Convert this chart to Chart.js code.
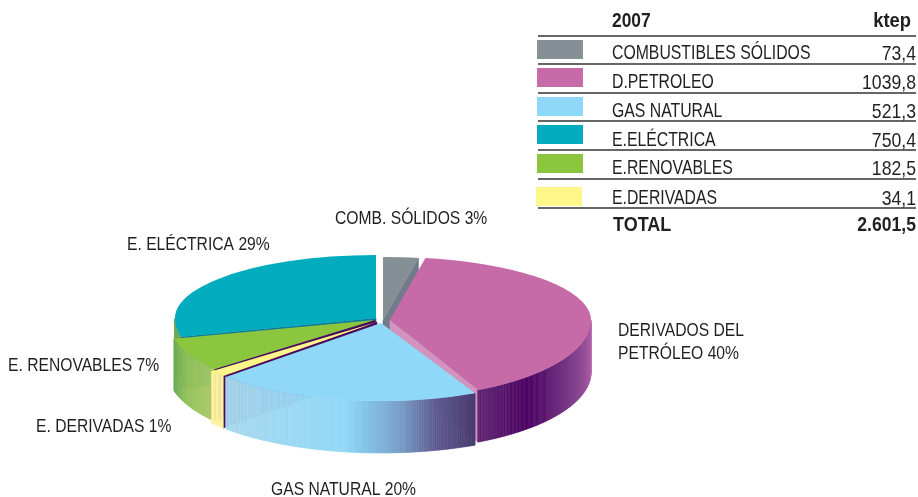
<!DOCTYPE html>
<html><head><meta charset="utf-8">
<style>html,body{margin:0;padding:0;background:#fff}canvas{display:block}</style>
<script src="https://cdn.jsdelivr.net/npm/chart.js@4"></script>
</head><body><canvas id="c" width="918" height="497"></canvas>
<script>
const categories = ['COMBUSTIBLES SÓLIDOS','D.PETROLEO','GAS NATURAL','E.ELÉCTRICA','E.RENOVABLES','E.DERIVADAS'];
const values = [73.4,1039.8,521.3,750.4,182.5,34.1];
const colors = ['#848f96','#c66ba8','#8fd8f8','#00acbe','#8cc63f','#fff689'];
const pieOrder = [0,1,2,5,4,3];
const yearLabel = '2007';
const unitLabel = 'ktep';
const totalLabel = 'TOTAL';
const totalValue = '2.601,5';
const sliceLabels = [
  [['COMB. SÓLIDOS 3%'],335,224],
  [['E. ELÉCTRICA 29%'],127,250],
  [['DERIVADOS DEL','PETRÓLEO 40%'],618,336],
  [['E. RENOVABLES 7%'],8,371],
  [['E. DERIVADAS 1%'],36,432],
  [['GAS NATURAL 20%'],271,495]
];
const rowLines = [36,64,93,121,150,179,208];
const rowBase = [59,88,117,146,174,204];

const cx=380, cy=322, W=918, H=497, RAD=201, DEPTH=52, K1=63/201, K2=78/201;
// the following are in pie order: comb, petro, gas, deriv, renov, elec
const shift=[[3,-2],[10,-2],[1,1],[-3,0],[-5,-2],[-4,-4]];
const widen=[1,1,1.07,1.06,1.03,1];
const cutColor=['#737b8a','#d094bf','#4a0a5e','#4a0a5e','#4a0a5e','#0b7d9a'];
const rim=[
  [[0,'#737b8a'],[360,'#737b8a']],
  [[90,'#c070b4'],[100,'#a35aa0'],[115,'#7a3a88'],[137,'#4a0060'],[150,'#5e2070'],[154,'#5e2070']],
  [[154,'#463a6c'],[165,'#5e5a90'],[175,'#789fca'],[184,'#84c4e8'],[190,'#92d8f8'],[226,'#a9d9ec']],
  [[226,'#fdf2a0'],[232,'#fdf2a0']],
  [[231,'#a9c965'],[245,'#95c25a'],[256,'#6bab58'],[270,'#6bab58']],
  [[256,'#6bab58'],[270,'#6bab58']]
];
const backToFront=[5,0,1,4,3,2];
const hex=h=>[1,3,5].map(i=>parseInt(h.substr(i,2),16));
function rimColor(i,deg){
  const s=rim[i];
  if(deg<=s[0][0])return s[0][1];
  for(let j=1;j<s.length;j++){
    if(deg<=s[j][0]){
      const t=(deg-s[j-1][0])/(s[j][0]-s[j-1][0]),a=hex(s[j-1][1]),b=hex(s[j][1]);
      return 'rgb('+a.map((v,n)=>Math.round(v+(b[n]-v)*t)).join(',')+')';
    }
  }
  return s[s.length-1][1];
}
function P(i,th,r){
  const c=Math.cos(th);
  return [cx+shift[i][0]+widen[i]*r*Math.sin(th), cy+shift[i][1]-(c>0?K1:K2)*r*c];
}
function quad(ctx,a,b,fill){
  ctx.fillStyle=fill;ctx.strokeStyle=fill;ctx.lineWidth=0.6;
  ctx.beginPath();ctx.moveTo(a[0],a[1]);ctx.lineTo(b[0],b[1]);
  ctx.lineTo(b[0],b[1]+DEPTH);ctx.lineTo(a[0],a[1]+DEPTH);ctx.closePath();ctx.fill();ctx.stroke();
}
function narrowText(ctx,t,x,y,sx){
  ctx.save();ctx.translate(x,y);ctx.scale(sx,1);ctx.fillText(t,0,0);ctx.restore();
}
const pie3d={
  id:'pie3d',
  beforeDatasetDraw(){return false;},
  beforeDatasetsDraw(chart){
    const ctx=chart.ctx, arcs=chart.getDatasetMeta(0).data;
    ctx.save();
    backToFront.forEach(i=>{
      const arc=arcs[i];
      const s=arc.startAngle+Math.PI/2, e=arc.endAngle+Math.PI/2, R=arc.outerRadius;
      if(Math.sin(e)>0) quad(ctx,P(i,e,0),P(i,e,R),cutColor[i]);
      if(Math.sin(s)<0) quad(ctx,P(i,s,0),P(i,s,R),cutColor[i]);
      const lo=Math.max(s,Math.PI/2), hi=Math.min(e,Math.PI*1.5);
      for(let th=lo;th<hi;th+=Math.PI/360){
        const n=Math.min(th+Math.PI/360,hi);
        quad(ctx,P(i,th,R),P(i,n,R),rimColor(i,th*180/Math.PI));
      }
    });
    backToFront.forEach(i=>{
      const arc=arcs[i];
      [[K1,0,cy+shift[i][1]],[K2,cy+shift[i][1],H]].forEach(z=>{
        ctx.save();
        ctx.beginPath();ctx.rect(0,z[1],W,z[2]-z[1]);ctx.clip();
        ctx.translate(cx+shift[i][0],cy+shift[i][1]);
        ctx.scale(widen[i],z[0]);
        ctx.translate(-arc.x,-arc.y);
        arc.draw(ctx);
        ctx.restore();
      });
    });
    ctx.restore();
  },
  afterDraw(chart){
    const ctx=chart.ctx, SANS='"Liberation Sans"', INK='#231f20';
    ctx.save();
    ctx.textBaseline='alphabetic';
    ctx.fillStyle=INK;
    ctx.font='18px '+SANS;ctx.textAlign='left';
    sliceLabels.forEach(l=>l[0].forEach((t,n)=>narrowText(ctx,t,l[1],l[2]+n*23,0.87)));
    ctx.strokeStyle='#333';ctx.lineWidth=1.5;
    rowLines.forEach(y=>{ctx.beginPath();ctx.moveTo(538,y);ctx.lineTo(916,y);ctx.stroke();});
    ctx.font='bold 20px '+SANS;
    narrowText(ctx,yearLabel,612,27,0.87);
    narrowText(ctx,totalLabel,613,231,0.9);
    ctx.textAlign='right';
    narrowText(ctx,unitLabel,911,27,0.92);
    narrowText(ctx,totalValue,916,231,0.88);
    categories.forEach((name,i)=>{
      ctx.fillStyle=colors[i];
      ctx.fillRect(i==5?536:537,rowLines[i]+(i==5?8:4),46,19);
      ctx.fillStyle=INK;
      ctx.font='20px '+SANS;
      ctx.textAlign='left';narrowText(ctx,name,612,rowBase[i],0.79);
      ctx.font='21px '+SANS;
      ctx.textAlign='right';narrowText(ctx,String(values[i]).replace('.',','),916,rowBase[i]+1,0.84);
    });
    ctx.restore();
  }
};
new Chart(document.getElementById('c'),{
  type:'pie',
  data:{labels:pieOrder.map(i=>categories[i]),datasets:[{data:pieOrder.map(i=>values[i]),backgroundColor:pieOrder.map(i=>colors[i]),borderWidth:0,clip:false}]},
  options:{responsive:false,animation:false,radius:RAD,
    events:[],
    layout:{padding:0},
    plugins:{legend:{display:false},tooltip:{enabled:false}}},
  plugins:[pie3d]
});
</script></body></html>
